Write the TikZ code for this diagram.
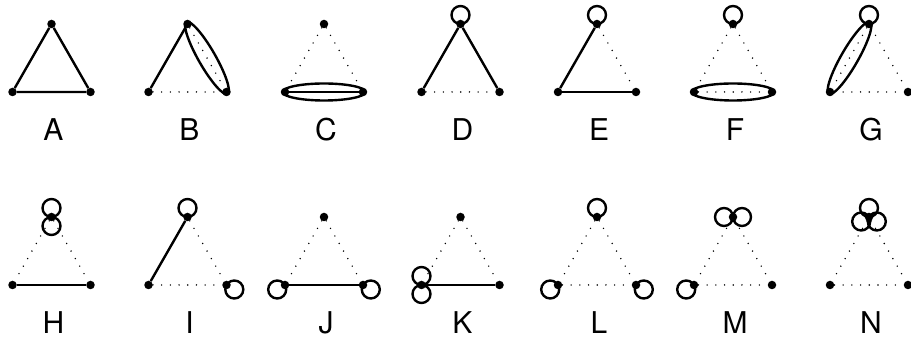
\documentclass[tikz,border=0pt]{standalone}
\usepackage{fontspec}
\setmainfont{TeX Gyre Heros}
\usetikzlibrary{calc}
\tikzset{
  vtx/.style={circle,fill=black,inner sep=0pt,minimum size=8.5pt},
  sedge/.style={line width=2.4pt},
  dedge/.style={line width=1.6pt,line cap=round,dash pattern=on 0pt off 8.7pt},
  lpstyle/.style={line width=2.4pt},
  lbl/.style={font=\fontsize{30}{30}\selectfont,inner sep=0pt},
}
\newcommand\mktri[4]{%
  \node[vtx] (#1t) at (#2,#3+68) {};
  \node[vtx] (#1l) at (#2-39,#3) {};
  \node[vtx] (#1r) at (#2+39,#3) {};
  \node[lbl] (#1lab) at (#2+2,#3-37.5) {#4};
}
\newcommand\mkloop[2]{\draw[lpstyle] ($(#1)+(#2:9pt)$) circle[radius=9pt];}
\newcommand\mkell[3]{\draw[lpstyle,rotate around={#3:($(#1)!0.5!(#2)$)}] ($(#1)!0.5!(#2)$) ellipse[x radius=41.5pt,y radius=8.5pt];}
\begin{document}
\begin{tikzpicture}[x=1pt,y=1pt]
\useasboundingbox (0,0) rectangle (911,344);
% row 1
\mktri{A}{51.5}{252}{A}
\mktri{B}{187.5}{252}{B}
\mktri{C}{324}{252}{C}
\mktri{D}{460.5}{252}{D}
\mktri{E}{597}{252}{E}
\mktri{F}{733}{252}{F}
\mktri{G}{869}{252}{G}
% row 2
\mktri{H}{51.5}{59}{H}
\mktri{I}{187.5}{59}{I}
\mktri{J}{324}{59}{J}
\mktri{K}{460.5}{59}{K}
\mktri{L}{597}{59}{L}
\mktri{M}{733}{59}{M}
\mktri{N}{869}{59}{N}
% A
\draw[sedge] (At) -- (Al) -- (Ar) -- (At);
% B
\draw[sedge] (Bt) -- (Bl);
\draw[dedge] (Bt) -- (Br);
\draw[dedge] (Bl) -- (Br);
\mkell{Bt}{Br}{-60.2}
% C
\draw[dedge] (Ct) -- (Cl);
\draw[dedge] (Ct) -- (Cr);
\draw[sedge] (Cl) -- (Cr);
\mkell{Cl}{Cr}{0}
% D
\draw[sedge] (Dt) -- (Dl);
\draw[sedge] (Dt) -- (Dr);
\draw[dedge] (Dl) -- (Dr);
\mkloop{Dt}{90}
% E
\draw[sedge] (Et) -- (El);
\draw[sedge] (El) -- (Er);
\draw[dedge] (Et) -- (Er);
\mkloop{Et}{90}
% F
\draw[dedge] (Ft) -- (Fl);
\draw[dedge] (Ft) -- (Fr);
\draw[dedge] (Fl) -- (Fr);
\mkell{Fl}{Fr}{0}
\mkloop{Ft}{90}
% G
\draw[dedge] (Gt) -- (Gl);
\draw[dedge] (Gt) -- (Gr);
\draw[dedge] (Gl) -- (Gr);
\mkell{Gl}{Gt}{60.2}
\mkloop{Gt}{90}
% H
\draw[dedge] (Ht) -- (Hl);
\draw[dedge] (Ht) -- (Hr);
\draw[sedge] (Hl) -- (Hr);
\mkloop{Ht}{90}
\mkloop{Ht}{-90}
% I
\draw[sedge] (It) -- (Il);
\draw[dedge] (It) -- (Ir);
\draw[dedge] (Il) -- (Ir);
\mkloop{It}{90}
\mkloop{Ir}{-30}
% J
\draw[dedge] (Jt) -- (Jl);
\draw[dedge] (Jt) -- (Jr);
\draw[sedge] (Jl) -- (Jr);
\mkloop{Jl}{210}
\mkloop{Jr}{-30}
% K
\draw[dedge] (Kt) -- (Kl);
\draw[dedge] (Kt) -- (Kr);
\draw[sedge] (Kl) -- (Kr);
\mkloop{Kl}{90}
\mkloop{Kl}{-90}
% L
\draw[dedge] (Lt) -- (Ll);
\draw[dedge] (Lt) -- (Lr);
\draw[dedge] (Ll) -- (Lr);
\mkloop{Lt}{90}
\mkloop{Ll}{210}
\mkloop{Lr}{-30}
% M
\draw[dedge] (Mt) -- (Ml);
\draw[dedge] (Mt) -- (Mr);
\draw[dedge] (Ml) -- (Mr);
\mkloop{Mt}{180}
\mkloop{Mt}{0}
\mkloop{Ml}{210}
% N
\draw[dedge] (Nt) -- (Nl);
\draw[dedge] (Nt) -- (Nr);
\draw[dedge] (Nl) -- (Nr);
\mkloop{Nt}{90}
\mkloop{Nt}{210}
\mkloop{Nt}{330}
\end{tikzpicture}
\end{document}
